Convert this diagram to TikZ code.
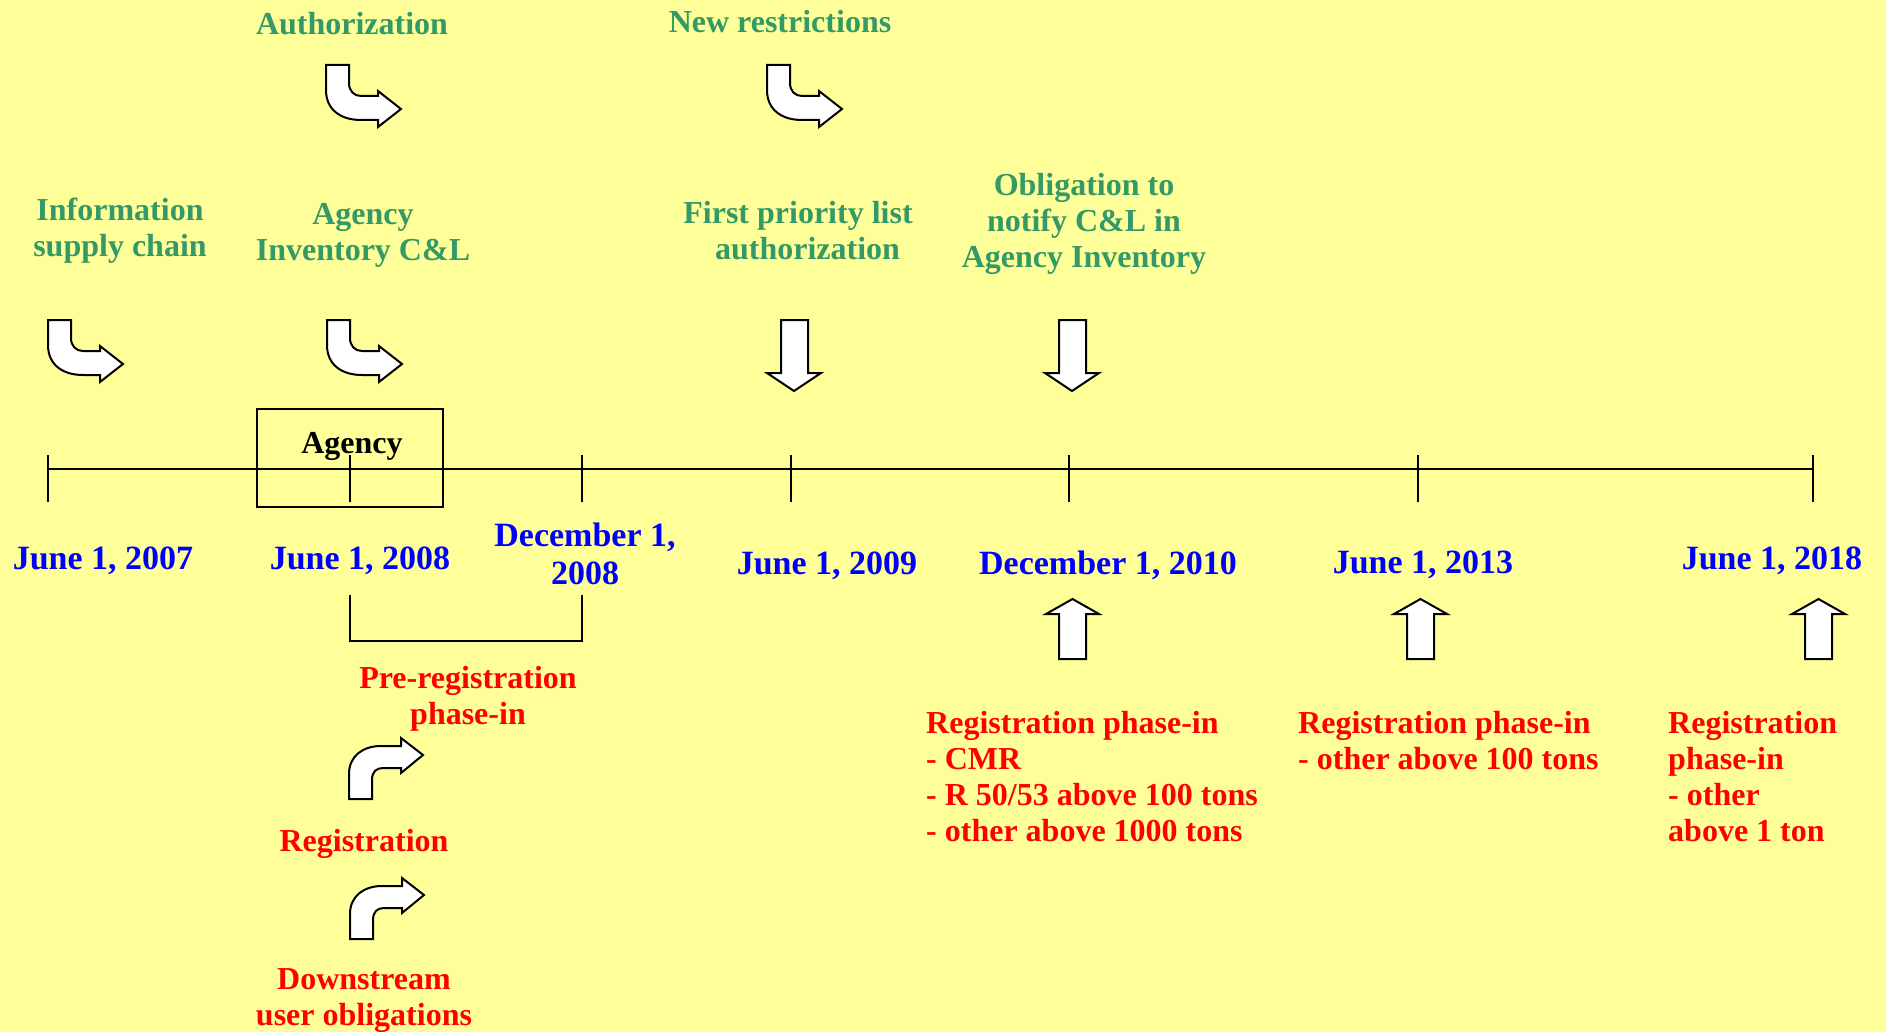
\documentclass[tikz,border=0pt]{standalone}
\usepackage{fontspec}
\setmainfont{Liberation Serif}
\definecolor{bg}{HTML}{FFFF99}
\definecolor{grn}{HTML}{339966}
\definecolor{blu}{HTML}{0000FF}
\definecolor{rd}{HTML}{FF0000}
\tikzset{
  gtext/.style={text=grn, font=\fontsize{32}{36}\selectfont\bfseries, align=center, inner sep=0pt},
  btext/.style={text=blu, font=\fontsize{34}{38.5}\selectfont\bfseries, align=center, inner sep=0pt},
  rtext/.style={text=rd, font=\fontsize{32}{36}\selectfont\bfseries, align=center, inner sep=0pt},
  rleft/.style={text=rd, font=\fontsize{32}{36}\selectfont\bfseries, align=left, inner sep=0pt, anchor=north west},
  ktext/.style={text=black, font=\fontsize{32}{36}\selectfont\bfseries, inner sep=0pt},
  arrowshape/.style={draw=black, fill=white, line width=2pt, line join=miter},
  axisline/.style={draw=black, line width=2.5pt},
  tickline/.style={draw=black, line width=2pt},
  bentdown/.pic={\path[arrowshape] (0,0) -- (23,0) -- (23,18) .. controls (23,26) and (28,31) .. (35,31) -- (52,31) -- (52,26) -- (75,44) -- (52,62) -- (52,55) -- (35,55) .. controls (15,55) and (0,45) .. (0,25) -- cycle;},
  bentup/.pic={\path[arrowshape] (0,61) -- (0,36) .. controls (0,18) and (14,8) .. (32,8) -- (52,8) -- (52,0) -- (74,17) -- (52,35) -- (52,30) -- (34,30) .. controls (27,30) and (23,34) .. (23,42) -- (23,61) -- cycle;},
  downarrow/.pic={\path[arrowshape] (14,0) -- (41,0) -- (41,53) -- (54,53) -- (27,71) -- (0,53) -- (14,53) -- cycle;},
  uparrow/.pic={\path[arrowshape] (26.5,0) -- (53,15) -- (40,15) -- (40,60) -- (13,60) -- (13,15) -- (0,15) -- cycle;}
}
\begin{document}
\begin{tikzpicture}[x=1pt,y=-1pt]
\fill[bg] (0,0) rectangle (1886,1032);
\useasboundingbox (0,0) rectangle (1886,1032);

% timeline
\coordinate (tlA) at (48,469);
\coordinate (tlB) at (1813,469);
\draw[axisline] (tlA) -- (tlB);
\foreach \n/\x in {t1/48,t2/350,t3/582,t4/791,t5/1069,t6/1418,t7/1813}{
  \coordinate (\n top) at (\x,455);
  \coordinate (\n bot) at (\x,502);
  \draw[tickline] (\n top) -- (\n bot);
}

% Agency box
\coordinate (boxA) at (257,409);
\coordinate (boxB) at (443,507);
\draw[tickline] (boxA) rectangle (boxB);
\node[ktext] (agency) at (352,446) {Agency};

% bracket
\coordinate (brA) at (350,595);
\coordinate (brB) at (350,641);
\coordinate (brC) at (582,641);
\coordinate (brD) at (582,595);
\draw[tickline] (brA) -- (brB) -- (brC) -- (brD);

% dates
\node[btext] (d2007) at (103,561) {June 1, 2007};
\node[btext] (d2008) at (360,561) {June 1, 2008};
\node[btext] (d2008b) at (585,554) {December 1,\\2008};
\node[btext] (d2009) at (827,566) {June 1, 2009};
\node[btext] (d2010) at (1108,565) {December 1, 2010};
\node[btext] (d2013) at (1423,565) {June 1, 2013};
\node[btext] (d2018) at (1772,561) {June 1, 2018};

% green labels
\node[gtext] (auth) at (352,24) {Authorization};
\node[gtext] (newr) at (780,22) {New restrictions};
\node[gtext] (info) at (120,231) {Information\\supply chain};
\node[gtext] (agcl) at (363,235) {Agency\\Inventory C\&L};
\node[gtext] (fpl) at (798,231) {First priority list\\\hspace*{19pt}authorization};
\node[gtext] (oblig) at (1084,224) {Obligation to\\notify C\&L in\\Agency Inventory};

% red labels
\node[rtext] (prereg) at (468,699) {Pre-registration\\phase-in};
\node[rtext] (reg) at (364,844) {Registration};
\node[rtext] (down) at (364,1001) {Downstream\\user obligations};
\node[rleft] (ph1) at (926,711) {Registration phase-in\\- CMR\\- R 50/53 above 100 tons\\- other above 1000 tons};
\node[rleft] (ph2) at (1298,711) {Registration phase-in\\- other above 100 tons};
\node[rleft] (ph3) at (1668,711) {Registration\\phase-in\\- other\\above 1 ton};

% arrows
\pic at (326,65) {bentdown};
\pic at (767,65) {bentdown};
\pic at (48,320) {bentdown};
\pic at (327,320) {bentdown};
\pic at (349,738) {bentup};
\pic at (350,878) {bentup};
\pic at (767,320) {downarrow};
\pic at (1045,320) {downarrow};
\pic at (1046,599) {uparrow};
\pic at (1394,599) {uparrow};
\pic at (1792,599) {uparrow};
\end{tikzpicture}
\end{document}
